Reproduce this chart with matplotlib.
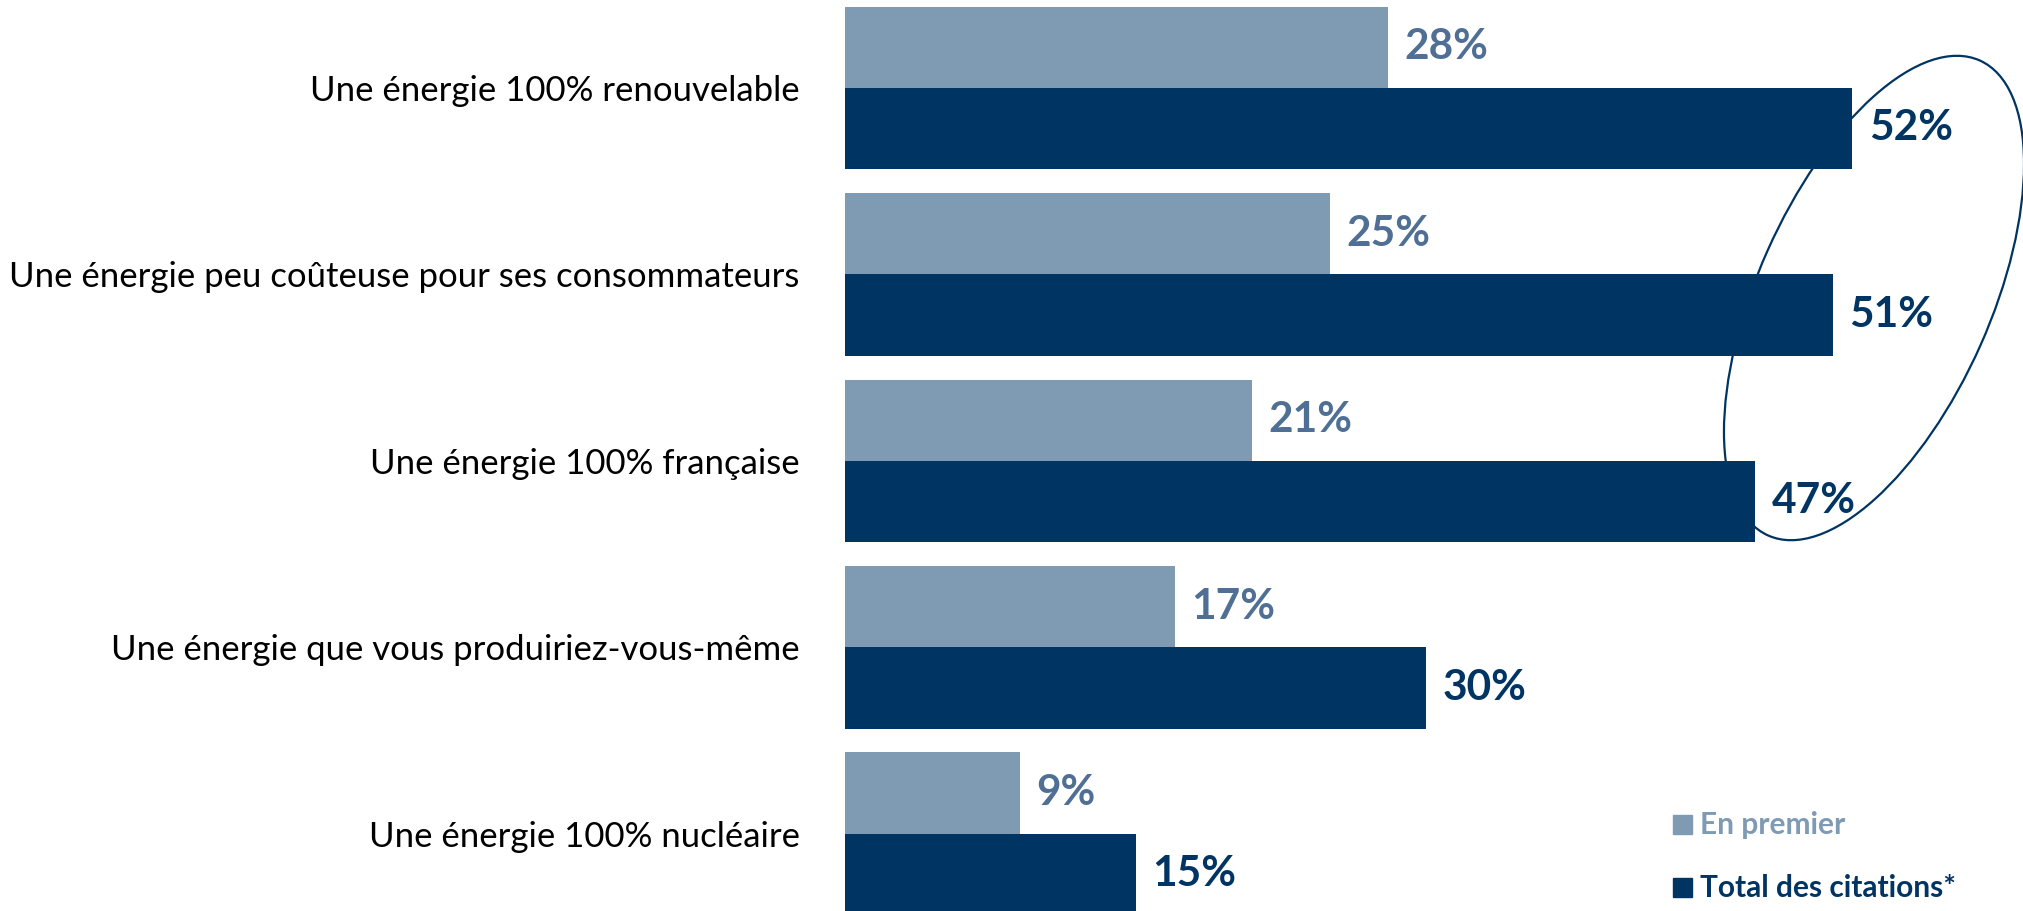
import matplotlib.pyplot as plt
from matplotlib.patches import Ellipse

categories = ['Une énergie 100% renouvelable',
              'Une énergie peu coûteuse pour ses consommateurs',
              'Une énergie 100% française',
              'Une énergie que vous produiriez-vous-même',
              'Une énergie 100% nucléaire']
en_premier = [28, 25, 21, 17, 9]
total = [52, 51, 47, 30, 15]
series_names = ['En premier', 'Total des citations*']

light = '#7f9ab3'
light_txt = '#4f6f94'
dark = '#003462'

plt.rcParams['font.family'] = ['Lato', 'DejaVu Sans']

fig = plt.figure(figsize=(20.24, 9.11), dpi=100)
ax = fig.add_axes([845.5 / 2024, 0, 1 - 845.5 / 2024, 1])

h = 0.436
ys = list(range(len(categories)))
ax.barh([y - h / 2 for y in ys], en_premier, height=h, color=light)
ax.barh([y + h / 2 for y in ys], total, height=h, color=dark)

for y, v in zip(ys, en_premier):
    ax.text(v + 0.85, y - h / 2, f'{v}%', va='center', ha='left',
            fontsize=30.5, fontweight='bold', color=light_txt)
for y, v in zip(ys, total):
    ax.text(v + 0.85, y + h / 2, f'{v}%', va='center', ha='left',
            fontsize=30.5, fontweight='bold', color=dark)

ax.set_xlim(0, 1178.5 / 19.36)
ax.set_ylim(4.414, -0.471)
ax.set_yticks(ys)
ax.set_yticklabels(categories, fontsize=25, color='black')
ax.tick_params(axis='y', length=0, pad=33)
ax.set_xticks([])
for s in ax.spines.values():
    s.set_visible(False)

# overlay in pixel coords for ellipse and legend
ov = fig.add_axes([0, 0, 1, 1], facecolor='none')
ov.set_xlim(0, 2024)
ov.set_ylim(0, 911)
ov.axis('off')
ov.add_patch(Ellipse((1874, 911 - 298), 520, 233, angle=66, fill=False,
                     edgecolor=dark, linewidth=1.6))

leg_y = [911 - 825, 911 - 888]
for yy, name, c in zip(leg_y, series_names, [light, dark]):
    ov.add_patch(plt.Rectangle((1673, yy - 9), 19, 19, color=c))
    ov.text(1700, yy, name, va='center', ha='left', fontsize=21.5,
            fontweight='bold', color=c)

fig.savefig('out.png', dpi=100)
